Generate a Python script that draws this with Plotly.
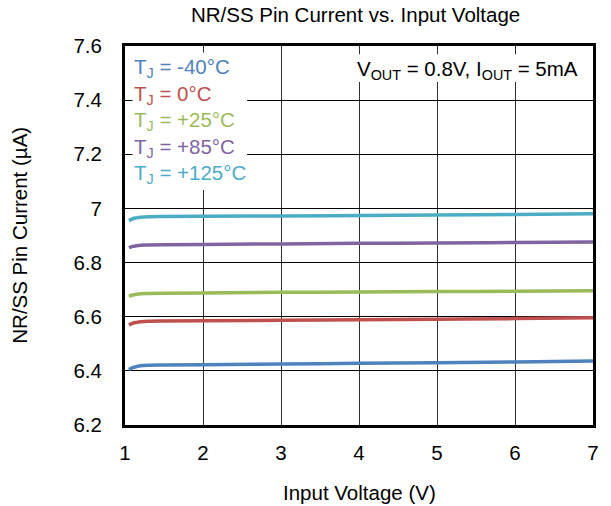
import plotly.graph_objects as go

x_vin = [1.05, 1.1, 1.15, 1.2, 1.3, 1.5, 2, 3, 4, 5, 6, 7]
i_m40 = [6.405, 6.412, 6.416, 6.419, 6.421, 6.422, 6.423, 6.425, 6.428, 6.430, 6.433, 6.436]
i_0 = [6.570, 6.576, 6.579, 6.581, 6.583, 6.584, 6.585, 6.587, 6.589, 6.591, 6.593, 6.596]
i_25 = [6.675, 6.680, 6.683, 6.685, 6.686, 6.687, 6.688, 6.690, 6.691, 6.693, 6.694, 6.696]
i_85 = [6.855, 6.860, 6.862, 6.864, 6.865, 6.866, 6.867, 6.869, 6.871, 6.872, 6.874, 6.876]
i_125 = [6.955, 6.962, 6.965, 6.967, 6.969, 6.970, 6.971, 6.972, 6.974, 6.976, 6.978, 6.980]

series_names = ["T<sub>J</sub> = -40°C", "T<sub>J</sub> = 0°C", "T<sub>J</sub> = +25°C",
                "T<sub>J</sub> = +85°C", "T<sub>J</sub> = +125°C"]
series_vals = [i_m40, i_0, i_25, i_85, i_125]
colors = ["#4F81BD", "#C0504D", "#9BBB59", "#8064A2", "#4BACC6"]

y_ticks = [6.2, 6.4, 6.6, 6.8, 7.0, 7.2, 7.4, 7.6]
y_ticktext = ["6.2", "6.4", "6.6", "6.8", "7", "7.2", "7.4", "7.6"]
x_ticks = [1, 2, 3, 4, 5, 6, 7]

FONT = "Arial, Liberation Sans, sans-serif"
FS = 20.5

fig = go.Figure()
for name, vals, c in zip(series_names, series_vals, colors):
    fig.add_trace(go.Scatter(x=x_vin, y=vals, mode="lines", name=name,
                             line=dict(color=c, width=3.5, shape="spline"),
                             showlegend=False))

# legend as text annotations on white boxes
fig.add_shape(type="rect", xref="paper", yref="paper", x0=0.016, x1=0.261, y0=0.620, y1=0.982,
              fillcolor="white", line=dict(width=0), layer="above")
fig.add_shape(type="rect", xref="paper", yref="paper", x0=0.465, x1=0.985, y0=0.905, y1=0.978,
              fillcolor="white", line=dict(width=0), layer="above")
leg_y = [0.942, 0.871, 0.802, 0.731, 0.662]
for name, c, yy in zip(series_names, colors, leg_y):
    fig.add_annotation(xref="paper", yref="paper", x=0.014, y=yy, text=name,
                       showarrow=False, xanchor="left", yanchor="middle",
                       font=dict(family=FONT, size=FS, color=c))

fig.add_annotation(xref="paper", yref="paper", x=0.972, y=0.937,
                   text="V<sub>OUT</sub> = 0.8V, I<sub>OUT</sub> = 5mA",
                   showarrow=False, xanchor="right", yanchor="middle",
                   font=dict(family=FONT, size=FS, color="black"))

# axis titles
fig.add_annotation(xref="paper", yref="paper", x=-0.226, y=0.5, text="NR/SS Pin Current (µA)",
                   textangle=-90, showarrow=False, xanchor="center", yanchor="middle",
                   font=dict(family=FONT, size=FS, color="black"))
fig.add_annotation(xref="paper", yref="paper", x=0.5, y=-0.177, text="Input Voltage (V)",
                   showarrow=False, xanchor="center", yanchor="middle",
                   font=dict(family=FONT, size=FS, color="black"))

fig.update_layout(
    width=611, height=506,
    margin=dict(l=125, r=15, t=46, b=81),
    paper_bgcolor="white", plot_bgcolor="white",
    font=dict(family=FONT, size=FS, color="black"),
    title=dict(text="NR/SS Pin Current vs. Input Voltage", x=0.582, xanchor="center",
               y=0.970, yanchor="middle", font=dict(family=FONT, size=20.5, color="black")),
)
fig.update_xaxes(range=[1, 7], tickvals=x_ticks, showgrid=True, gridcolor="#303030", gridwidth=1,
                 showline=True, linecolor="black", linewidth=3, mirror=True,
                 ticks="", zeroline=False, ticklabelstandoff=7,
                 tickfont=dict(family=FONT, size=FS))
fig.update_yaxes(range=[6.2, 7.6], tickvals=y_ticks, ticktext=y_ticktext, showgrid=True,
                 gridcolor="black", gridwidth=1,
                 showline=True, linecolor="black", linewidth=3, mirror=True,
                 ticks="", zeroline=False, ticklabelstandoff=16,
                 tickfont=dict(family=FONT, size=FS))

fig.write_html("out.html")
